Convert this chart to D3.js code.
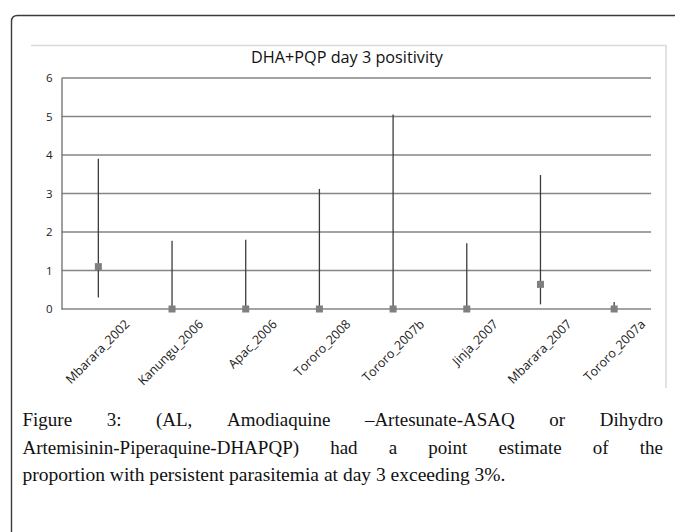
<!DOCTYPE html>
<html>
<head>
<meta charset="utf-8">
<script src="https://cdn.jsdelivr.net/npm/d3@7"></script>
<style>
  html, body { margin: 0; padding: 0; background: #fff; }
  svg { display: block; }
</style>
</head>
<body>
<svg id="chart" width="675" height="532"></svg>
<script>
// ---- data ----
const categories = ["Mbarara_2002", "Kanungu_2006", "Apac_2006", "Tororo_2008",
                    "Tororo_2007b", "Jinja_2007", "Mbarara_2007", "Tororo_2007a"];
const pointEstimate = [1.1, 0, 0, 0, 0, 0, 0.64, 0];
const upperCI = [3.9, 1.77, 1.8, 3.12, 5.05, 1.71, 3.48, 0.18];
const lowerCI = [0.3, 0, 0, 0, 0, 0, 0.12, 0];
const yTicks = [0, 1, 2, 3, 4, 5, 6];
const chartTitle = "DHA+PQP day 3 positivity";
const captionLines = [
  ["Figure", "3:", "(AL,", "Amodiaquine", "–Artesunate-ASAQ", "or", "Dihydro"],
  ["Artemisinin-Piperaquine-DHAPQP)", "had", "a", "point", "estimate", "of", "the"],
  ["proportion with persistent parasitemia at day 3 exceeding 3%."]
];

const svg = d3.select("#chart");
const sansFont = "'Open Sans', 'DejaVu Sans', sans-serif";
const serifFont = "'Liberation Serif', 'DejaVu Serif', serif";

// outer frame (rounded top-left corner, runs off right and bottom)
const r = 6, fx = 11.5, fy = 15.5;
svg.append("path")
  .attr("d", `M${fx},532 L${fx},${fy + r} Q${fx},${fy} ${fx + r},${fy} L675,${fy}`)
  .attr("fill", "none").attr("stroke", "#3a3a3a").attr("stroke-width", 1.4);

// chart panel border (top + right visible)
svg.append("path")
  .attr("d", "M31,45.5 L666,45.5 L666,388")
  .attr("fill", "none").attr("stroke", "#d9d9d9").attr("stroke-width", 1.5);

// scales
const x = d3.scaleBand().domain(categories).range([61.5, 651]).padding(0);
const y = d3.scaleLinear().domain([0, 6]).range([309, 78]);

// gridlines
svg.append("g").selectAll("line").data(yTicks).join("line")
  .attr("x1", 61.5).attr("x2", 651)
  .attr("y1", d => y(d)).attr("y2", d => y(d))
  .attr("stroke", "#858585").attr("stroke-width", 1.4);

// y axis
const yAxis = d3.axisLeft(y).tickValues(yTicks).tickFormat(d3.format("d"))
  .tickSize(0).tickPadding(9);
const yg = svg.append("g").attr("transform", "translate(61.5,0)").call(yAxis);
yg.select(".domain").attr("stroke", "#777").attr("stroke-width", 1.4);
yg.selectAll("text").attr("font-family", sansFont).attr("font-size", 11.5).attr("fill", "#222");

// x axis labels (rotated)
const xAxis = d3.axisBottom(x).tickSize(0).tickPadding(0);
const xg = svg.append("g").attr("transform", "translate(0,309)").call(xAxis);
xg.select(".domain").remove();
xg.selectAll(".tick text")
  .attr("font-family", sansFont).attr("font-size", 12.5).attr("fill", "#222")
  .attr("text-anchor", "end").attr("dy", 0).attr("y", 0)
  .attr("transform", "translate(32,16) rotate(-45)");

// error bars
const cx = d => x(d) + x.bandwidth() / 2;
svg.append("g").selectAll("line").data(categories).join("line")
  .attr("x1", d => cx(d)).attr("x2", d => cx(d))
  .attr("y1", (d, i) => y(upperCI[i])).attr("y2", (d, i) => y(lowerCI[i]))
  .attr("stroke", "#3c3c3c").attr("stroke-width", 1.3);

// point estimates
const ms = 7;
svg.append("g").selectAll("rect").data(categories).join("rect")
  .attr("x", d => cx(d) - ms / 2)
  .attr("y", (d, i) => y(pointEstimate[i]) - ms / 2)
  .attr("width", ms).attr("height", ms)
  .attr("fill", "#7f7f7f");

// title (fit width)
const t = svg.append("text").text(chartTitle)
  .attr("x", 347).attr("y", 63).attr("text-anchor", "middle")
  .attr("font-family", sansFont).attr("font-size", 14).attr("fill", "#111");
const tw = t.node().getComputedTextLength();
t.attr("font-size", 14 * 192 / tw);

// caption
const capLeft = 22.5, capRight = 663;
const baselines = [426, 453.5, 481];
const capSize = 19;

captionLines.forEach((words, li) => {
  if (li === captionLines.length - 1) {
    svg.append("text").text(words[0]).attr("x", capLeft).attr("y", baselines[li])
      .attr("font-family", serifFont).attr("font-size", capSize).attr("fill", "#111")
      .attr("textLength", 483).attr("lengthAdjust", "spacingAndGlyphs");
    return;
  }
  const nodes = words.map(w => svg.append("text").text(w)
    .attr("y", baselines[li]).attr("font-family", serifFont)
    .attr("font-size", capSize).attr("fill", "#111"));
  const widths = nodes.map(n => n.node().getComputedTextLength());
  const gap = (capRight - capLeft - d3.sum(widths)) / (words.length - 1);
  let xp = capLeft;
  nodes.forEach((n, i) => { n.attr("x", xp); xp += widths[i] + gap; });
});
</script>
</body>
</html>
